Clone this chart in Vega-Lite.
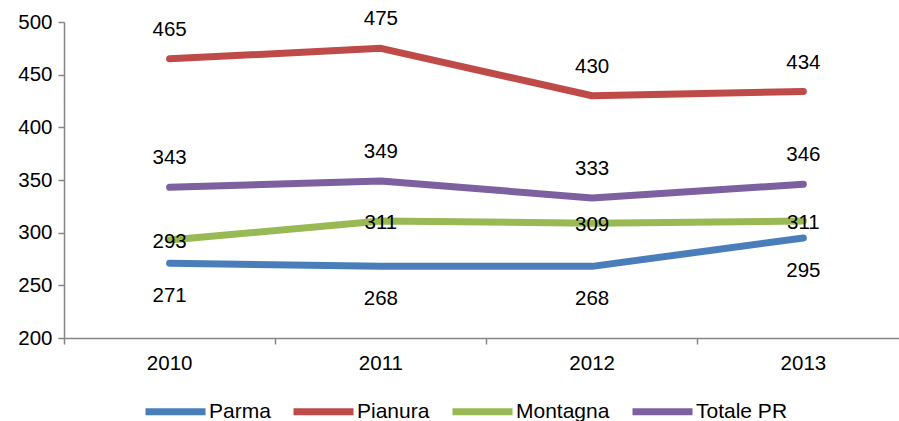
{
  "$schema": "https://vega.github.io/schema/vega-lite/v6.json",
  "width": 835,
  "height": 316,
  "autosize": "none",
  "padding": {"left": 64, "top": 22, "right": 0, "bottom": 83},
  "config": {
    "view": {"stroke": null},
    "font": "Liberation Sans",
    "axis": {"labelFont": "Liberation Sans", "labelFontSize": 20.5, "labelColor": "#000000", "domainColor": "#868686", "tickColor": "#868686", "domainWidth": 1.5, "tickWidth": 1.5, "grid": false, "title": null}
  },
  "data": {
    "values": [
      {"year": "2010", "series": "Parma", "value": 271},
      {"year": "2011", "series": "Parma", "value": 268},
      {"year": "2012", "series": "Parma", "value": 268},
      {"year": "2013", "series": "Parma", "value": 295},
      {"year": "2010", "series": "Pianura", "value": 465},
      {"year": "2011", "series": "Pianura", "value": 475},
      {"year": "2012", "series": "Pianura", "value": 430},
      {"year": "2013", "series": "Pianura", "value": 434},
      {"year": "2010", "series": "Montagna", "value": 293},
      {"year": "2011", "series": "Montagna", "value": 311},
      {"year": "2012", "series": "Montagna", "value": 309},
      {"year": "2013", "series": "Montagna", "value": 311},
      {"year": "2010", "series": "Totale PR", "value": 343},
      {"year": "2011", "series": "Totale PR", "value": 349},
      {"year": "2012", "series": "Totale PR", "value": 333},
      {"year": "2013", "series": "Totale PR", "value": 346}
    ]
  },
  "encoding": {
    "x": {
      "field": "year", "type": "ordinal",
      "scale": {"type": "band", "range": [0, 845], "paddingInner": 0, "paddingOuter": 0},
      "axis": {"labelAngle": 0, "tickSize": 6, "labelPadding": 9, "bandPosition": 0}
    },
    "y": {
      "field": "value", "type": "quantitative",
      "scale": {"domain": [200, 500], "nice": false, "zero": false},
      "axis": {"values": [200, 250, 300, 350, 400, 450, 500], "tickSize": 6, "labelPadding": 6}
    }
  },
  "layer": [
    {
      "mark": {"type": "line", "strokeWidth": 7, "strokeCap": "round", "strokeJoin": "round"},
      "encoding": {
        "color": {
          "field": "series", "type": "nominal",
          "scale": {"domain": ["Parma", "Pianura", "Montagna", "Totale PR"], "range": ["#4A7EBB", "#BE4B48", "#98B954", "#7D60A0"]},
          "legend": {
            "title": null, "orient": "none", "direction": "horizontal", "legendX": 78, "legendY": 356,
            "symbolType": "stroke", "symbolSize": 3600, "symbolStrokeWidth": 7, "symbolOffset": 0,
            "labelFontSize": 21, "labelFont": "Liberation Sans", "labelColor": "#000000", "labelOffset": 0,
            "columnPadding": 8
          }
        }
      }
    },
    {
      "transform": [{"filter": "datum.series === 'Parma'"}],
      "mark": {"type": "text", "fontSize": 20.5, "dy": 33, "color": "#000000"},
      "encoding": {"text": {"field": "value", "type": "quantitative"}}
    },
    {
      "transform": [{"filter": "datum.series === 'Pianura' || datum.series === 'Totale PR'"}],
      "mark": {"type": "text", "fontSize": 20.5, "dy": -29, "color": "#000000"},
      "encoding": {"text": {"field": "value", "type": "quantitative"}}
    },
    {
      "transform": [{"filter": "datum.series === 'Montagna'"}],
      "mark": {"type": "text", "fontSize": 20.5, "dy": 2, "color": "#000000"},
      "encoding": {"text": {"field": "value", "type": "quantitative"}}
    }
  ]
}
